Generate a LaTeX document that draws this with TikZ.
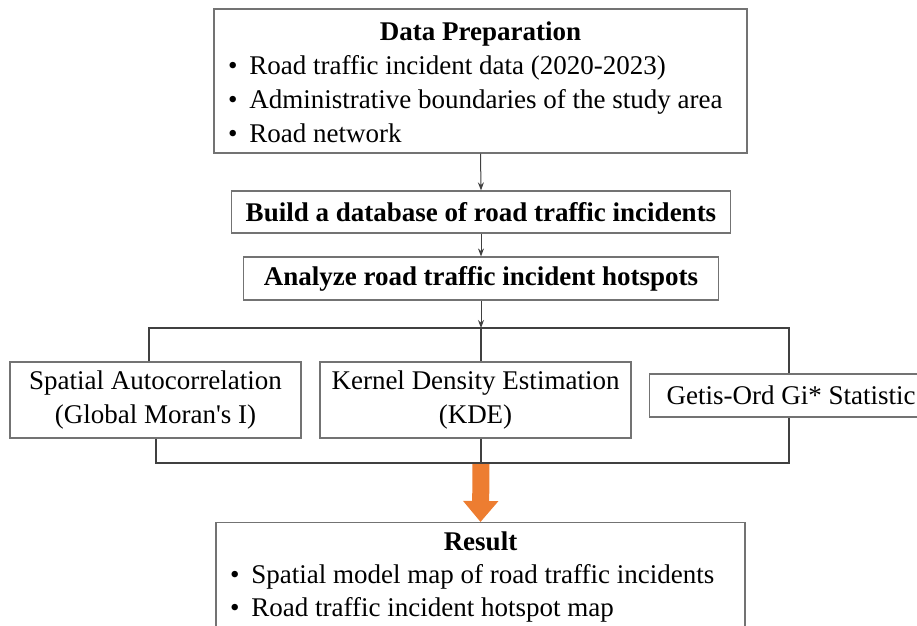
\documentclass[tikz,border=0pt]{standalone}
\usepackage{fontspec}
\setmainfont{Liberation Serif}
\usepackage{xcolor}
\usetikzlibrary{arrows.meta,positioning}
\definecolor{floworange}{RGB}{237,125,49}
\newcommand{\bul}{\textbullet\hspace{12pt}}

\begin{document}
\begin{tikzpicture}[x=1pt, y=-1pt,
  box/.style={draw=black!55, line width=1.2pt, fill=white, inner sep=0pt,
              align=center, font=\fontsize{27}{34}\selectfont},
  listbox/.style={box, inner xsep=14pt},
  arrow/.style={-{Stealth[length=8pt,width=6pt]}, line width=1pt, black!75},
  link/.style={line width=1.4pt, black!75},
  bigarrow/.style={-{Triangle[length=21pt,width=34pt]}, line width=17pt, floworange}
]
\useasboundingbox (0,0) rectangle (917,625);

% Input data
\node[listbox, minimum height=144pt] (prep) at (480.5,81)
  {\begin{tabular}{@{}p{505pt}@{}}
   \multicolumn{1}{@{}c@{}}{\textbf{Data Preparation}}\\
   \bul Road traffic incident data (2020-2023)\\
   \bul Administrative boundaries of the study area\\
   \bul Road network\\[-8pt]
   \end{tabular}};

% Processing steps
\node[box, font=\fontsize{27}{34}\selectfont\bfseries, minimum width=499pt, minimum height=42pt]
  (build) at (481,212) {Build a database of road traffic incidents};
\node[box, font=\fontsize{27}{34}\selectfont\bfseries, minimum width=475pt, minimum height=43pt]
  (analyze) at (481,278.5) {Analyze road traffic incident hotspots};

% Methods
\node[box, minimum width=291pt, minimum height=76pt] (sac) at (155.5,400)
  {Spatial Autocorrelation\\(Global Moran\textquotesingle s I)};
\node[box, minimum width=311pt, minimum height=76pt] (kde) at (475.5,400)
  {Kernel Density Estimation\\(KDE)};
\node[box, anchor=west, inner xsep=17pt, minimum height=43pt] (gistat) at (649,395.5)
  {Getis-Ord Gi* Statistic};

% Output
\node[listbox, font=\fontsize{27}{33}\selectfont, inner ysep=5pt, anchor=north]
  (result) at (480.5,522)
  {\begin{tabular}{@{}p{501pt}@{}}
   \multicolumn{1}{@{}c@{}}{\textbf{Result}}\\
   \bul Spatial model map of road traffic incidents\\
   \bul Road traffic incident hotspot map
   \end{tabular}};

% Branch points
\coordinate (topl) at (149,328);
\coordinate (topr) at (789,328);
\coordinate (botl) at (156,463);
\coordinate (botr) at (789,463);
\coordinate (split) at (481,328);
\coordinate (merge) at (481,463);

% Arrows
\draw[arrow] (prep.south) -- (build.north);
\draw[arrow] (build.south) -- (analyze.north);
\draw[bigarrow] (merge) -- (result.north);
\draw[arrow] (analyze.south) -- (split);
\draw[link] (sac.north -| topl) -- (topl) -- (topr) -- (gistat.north -| topr);
\draw[link] (split) -- (split |- kde.north);
\draw[link] (sac.south -| botl) -- (botl) -- (botr) -- (gistat.south -| botr);
\draw[link] (merge |- kde.south) -- (merge);

\end{tikzpicture}
\end{document}
